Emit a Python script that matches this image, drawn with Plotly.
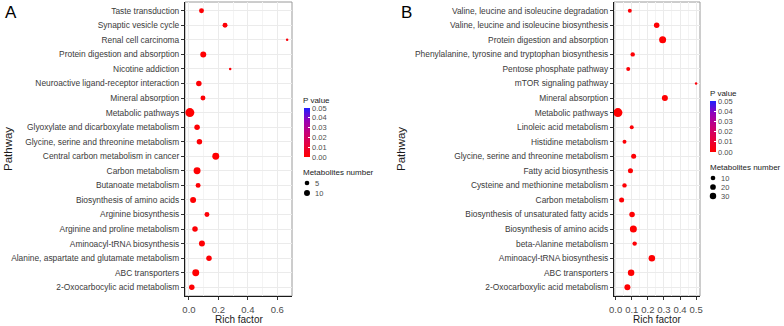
import numpy as np
import plotly.graph_objects as go

# ---------------- data ----------------
cats_a = ["Taste transduction", "Synaptic vesicle cycle", "Renal cell carcinoma",
          "Protein digestion and absorption", "Nicotine addiction",
          "Neuroactive ligand-receptor interaction", "Mineral absorption",
          "Metabolic pathways", "Glyoxylate and dicarboxylate metabolism",
          "Glycine, serine and threonine metabolism", "Central carbon metabolism in cancer",
          "Carbon metabolism", "Butanoate metabolism", "Biosynthesis of amino acids",
          "Arginine biosynthesis", "Arginine and proline metabolism",
          "Aminoacyl-tRNA biosynthesis", "Alanine, aspartate and glutamate metabolism",
          "ABC transporters", "2-Oxocarbocylic acid metabolism"]
rich_a = [0.085, 0.245, 0.667, 0.097, 0.28, 0.067, 0.095, 0.006, 0.055, 0.071,
          0.182, 0.055, 0.062, 0.028, 0.122, 0.041, 0.088, 0.136, 0.046, 0.019]
count_a = [6, 6, 2, 10, 2, 8, 6, 30, 8, 8, 15, 15, 6, 10, 6, 8, 10, 8, 15, 8]
pval_a = [0.001, 0.0012, 0.002, 0.0005, 0.002, 0.001, 0.0012, 0.00001, 0.0008, 0.0009,
          0.0002, 0.0003, 0.001, 0.0004, 0.0011, 0.0009, 0.0006, 0.0008, 0.0002, 0.0007]
size_breaks_a = [5, 10]

cats_b = ["Valine, leucine and isoleucine degradation",
          "Valine, leucine and isoleucine biosynthesis", "Protein digestion and absorption",
          "Phenylalanine, tyrosine and tryptophan biosynthesis", "Pentose phosphate pathway",
          "mTOR signaling pathway", "Mineral absorption", "Metabolic pathways",
          "Linoleic acid metabolism", "Histidine metabolism",
          "Glycine, serine and threonine metabolism", "Fatty acid biosynthesis",
          "Cysteine and methionine metabolism", "Carbon metabolism",
          "Biosynthesis of unsaturated fatty acids", "Biosynthesis of amino acids",
          "beta-Alanine metabolism", "Aminoacyl-tRNA biosynthesis", "ABC transporters",
          "2-Oxocarboxylic acid metabolism"]
rich_b = [0.088, 0.255, 0.292, 0.106, 0.078, 0.5, 0.306, 0.014, 0.1, 0.055,
          0.112, 0.092, 0.055, 0.037, 0.102, 0.11, 0.118, 0.225, 0.096, 0.073]
count_b = [5, 18, 39, 8, 5, 1, 24, 80, 5, 5, 13, 13, 8, 13, 18, 39, 8, 31, 31, 24]
pval_b = [0.0012, 0.0005, 0.0001, 0.001, 0.0012, 0.002, 0.0003, 0.00001, 0.0012, 0.0012,
          0.0008, 0.0008, 0.001, 0.0009, 0.0006, 0.0001, 0.001, 0.0003, 0.0003, 0.0004]
size_breaks_b = [10, 20, 30]

pticks = [0.0, 0.01, 0.02, 0.03, 0.04, 0.05]

# ---------------- styling ----------------
W, H = 784, 326
FONT = "Liberation Sans, Arial, Helvetica, sans-serif"
SMIN, SMAX = 2.5, 9.0
colorscale = [[0.0, "#FF0000"], [0.25, "#E6003F"], [0.5, "#C6007A"],
              [0.75, "#9500B8"], [1.0, "#1F1FFF"]]


def diam(c, cmin, cmax):
    c = np.asarray(c, dtype=float)
    return SMIN + (SMAX - SMIN) * np.sqrt((c - cmin) / (cmax - cmin))


def px_x(p):
    return p / W


def px_y(p):
    return 1 - p / H


def xrange(vals):
    lo, hi = min(vals), max(vals)
    s = hi - lo
    return [lo - 0.05 * s, hi + 0.05 * s]


panels = [
    dict(cats=cats_a, rich=rich_a, count=count_a, p=pval_a, breaks=size_breaks_a,
         xd=(185, 292), xs="x", ys="y", ca="coloraxis", dtick=0.2, minor=0.1,
         letter="A", letter_x=3, ptitle_x=301, bar_x=304, bar_top=108, bar_len=49,
         ylab_x=8),
    dict(cats=cats_b, rich=rich_b, count=count_b, p=pval_b, breaks=size_breaks_b,
         xd=(614, 700), xs="x2", ys="y2", ca="coloraxis2", dtick=0.1, minor=0.05,
         letter="B", letter_x=399, ptitle_x=708, bar_x=710, bar_top=101, bar_len=51,
         ylab_x=401),
]

fig = go.Figure()
layout = dict(template="none", width=W, height=H, margin=dict(l=0, r=0, t=0, b=0, pad=0),
              paper_bgcolor="white", plot_bgcolor="white", showlegend=False,
              font=dict(family=FONT, color="#333333"))
annotations, shapes = [], []
PLOT_TOP, PLOT_BOT = 2, 296

for i, pn in enumerate(panels):
    cmin, cmax = min(pn["count"]), max(pn["count"])
    fig.add_trace(go.Scatter(
        x=pn["rich"], y=pn["cats"], mode="markers", xaxis=pn["xs"], yaxis=pn["ys"],
        marker=dict(size=diam(pn["count"], cmin, cmax), color=pn["p"],
                    coloraxis=pn["ca"], line=dict(width=0), opacity=1),
        hovertemplate="%{y}<br>Rich factor %{x}<extra></extra>"))
    suffix = "" if i == 0 else "2"
    n = len(pn["cats"])
    layout["xaxis" + suffix] = dict(
        domain=[px_x(pn["xd"][0]), px_x(pn["xd"][1])], anchor=pn["ys"], automargin=False,
        range=xrange(pn["rich"]), dtick=pn["dtick"], tick0=0, tickformat=".1f",
        tickangle=0, showgrid=True, gridcolor="#EBEBEB", gridwidth=1, zeroline=False,
        minor=dict(dtick=pn["minor"], tick0=0, showgrid=True, gridcolor="#F4F4F4",
                   gridwidth=0.5, ticks=""),
        showline=True, linecolor="#1A1A1A", linewidth=1.2,
        ticks="outside", ticklen=3, tickcolor="#333333", tickwidth=1,
        ticklabelstandoff=1,
        tickfont=dict(size=9.5, color="#4D4D4D", family=FONT), fixedrange=True)
    layout["yaxis" + suffix] = dict(
        domain=[px_y(PLOT_BOT), px_y(PLOT_TOP)], anchor=pn["xs"], type="category",
        automargin=False,
        categoryorder="array", categoryarray=pn["cats"], range=[n - 0.4, -0.6],
        showgrid=True, gridcolor="#EBEBEB", gridwidth=1, zeroline=False,
        showline=True, linecolor="#1A1A1A", linewidth=1.2,
        ticks="outside", ticklen=3, tickcolor="#333333", tickwidth=1,
        tickfont=dict(size=8.4, color="#3A3A3A", family=FONT), fixedrange=True)
    shapes.append(dict(type="rect", xref=pn["xs"] + " domain", yref=pn["ys"] + " domain",
                       x0=0, x1=1, y0=0, y1=1, line=dict(color="#9A9A9A", width=1),
                       layer="below"))
    layout[pn["ca"]] = dict(
        cmin=0, cmax=0.05, colorscale=colorscale,
        colorbar=dict(x=px_x(pn["bar_x"]), xanchor="left", xpad=0, ypad=0,
                      y=px_y(pn["bar_top"]), yanchor="top", len=pn["bar_len"],
                      lenmode="pixels", thickness=6, thicknessmode="pixels",
                      outlinewidth=0, tickvals=pticks,
                      ticktext=[f"{v:.2f}" for v in pticks],
                      ticks="inside", ticklen=2, tickcolor="white",
                      tickfont=dict(size=7.5, color="#4D4D4D", family=FONT)))
    annotations.append(dict(text="P value", xref="paper", yref="paper",
                            x=px_x(pn["ptitle_x"]), y=px_y(pn["bar_top"] - 1),
                            xanchor="left", yanchor="bottom", showarrow=False,
                            font=dict(size=8, color="#1A1A1A")))
    ml_top = pn["bar_top"] + pn["bar_len"] + 9
    annotations.append(dict(text="Metabolites number", xref="paper", yref="paper",
                            x=px_x(pn["ptitle_x"]), y=px_y(ml_top), xanchor="left",
                            yanchor="top", showarrow=False,
                            font=dict(size=8, color="#1A1A1A")))
    step = 10 if i == 0 else 9
    for k, b in enumerate(pn["breaks"]):
        cy = ml_top + 17 + k * step
        d = float(diam(b, cmin, cmax))
        cx = pn["bar_x"] + 3
        shapes.append(dict(type="circle", xref="paper", yref="paper",
                           xsizemode="pixel", ysizemode="pixel",
                           xanchor=px_x(cx), yanchor=px_y(cy),
                           x0=-d / 2, x1=d / 2, y0=-d / 2, y1=d / 2,
                           fillcolor="black", line=dict(width=0)))
        annotations.append(dict(text=str(b), xref="paper", yref="paper",
                                x=px_x(cx + 6), y=px_y(cy), xanchor="left",
                                yanchor="middle", showarrow=False,
                                font=dict(size=7.5, color="#4D4D4D")))
    annotations.append(dict(text="Rich factor", xref="paper", yref="paper",
                            x=px_x((pn["xd"][0] + pn["xd"][1]) / 2), y=px_y(326.5),
                            xanchor="center", yanchor="bottom", showarrow=False,
                            font=dict(size=10, color="#1A1A1A")))
    annotations.append(dict(text="Pathway", xref="paper", yref="paper",
                            x=px_x(pn["ylab_x"]), y=px_y((PLOT_TOP + PLOT_BOT) / 2),
                            xanchor="center", yanchor="middle", textangle=-90,
                            showarrow=False, font=dict(size=11.5, color="#1A1A1A")))
    annotations.append(dict(text=pn["letter"], xref="paper", yref="paper",
                            x=px_x(pn["letter_x"]), y=px_y(1), xanchor="left",
                            yanchor="top", showarrow=False,
                            font=dict(size=17, color="black")))

layout["annotations"] = annotations
layout["shapes"] = shapes
fig.update_layout(**layout)
fig.write_html("out.html", config={"displayModeBar": False},
               post_script="document.body.style.margin='0';document.body.style.overflow='hidden';")
